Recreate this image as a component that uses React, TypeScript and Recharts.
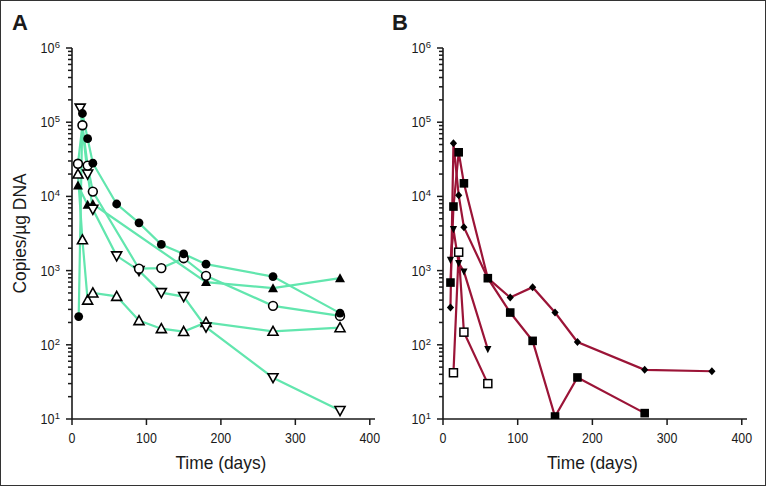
import { LineChart, Line, XAxis, YAxis } from "recharts";

type Pt = { day: number; copies: number };

// Panel A (green)
const aFilledCircle: Pt[] = [
  { day: 9, copies: 240 }, { day: 14, copies: 131000 }, { day: 21, copies: 60000 },
  { day: 28, copies: 28000 }, { day: 60, copies: 7900 }, { day: 90, copies: 4400 },
  { day: 120, copies: 2250 }, { day: 150, copies: 1680 }, { day: 180, copies: 1220 },
  { day: 270, copies: 830 }, { day: 360, copies: 267 },
];
const aOpenCircle: Pt[] = [
  { day: 8, copies: 27500 }, { day: 14, copies: 91000 }, { day: 21, copies: 26000 },
  { day: 28, copies: 11600 }, { day: 90, copies: 1060 }, { day: 120, copies: 1080 },
  { day: 150, copies: 1470 }, { day: 180, copies: 850 }, { day: 270, copies: 335 },
  { day: 360, copies: 245 },
];
const aFilledTriangle: Pt[] = [
  { day: 8, copies: 14000 }, { day: 21, copies: 7700 }, { day: 28, copies: 7900 },
  { day: 180, copies: 700 }, { day: 270, copies: 580 }, { day: 360, copies: 790 },
];
const aOpenTriangle: Pt[] = [
  { day: 8, copies: 20000 }, { day: 14, copies: 2600 }, { day: 21, copies: 400 },
  { day: 28, copies: 500 }, { day: 60, copies: 450 }, { day: 90, copies: 212 },
  { day: 120, copies: 165 }, { day: 150, copies: 151 }, { day: 180, copies: 200 },
  { day: 270, copies: 152 }, { day: 360, copies: 170 },
];
const aOpenTriangleDown: Pt[] = [
  { day: 11, copies: 155000 }, { day: 21, copies: 20000 }, { day: 28, copies: 6700 },
  { day: 60, copies: 1580 }, { day: 90, copies: 1000 }, { day: 120, copies: 505 },
  { day: 150, copies: 447 }, { day: 180, copies: 173 }, { day: 270, copies: 36 },
  { day: 360, copies: 13 },
];

// Panel B (dark red)
const bDiamond: Pt[] = [
  { day: 10, copies: 318 }, { day: 14, copies: 52000 }, { day: 21, copies: 10400 },
  { day: 28, copies: 3840 }, { day: 60, copies: 790 }, { day: 90, copies: 433 },
  { day: 120, copies: 598 }, { day: 150, copies: 272 }, { day: 180, copies: 109 },
  { day: 270, copies: 46 }, { day: 360, copies: 44 },
];
const bFilledSquare: Pt[] = [
  { day: 10, copies: 690 }, { day: 14, copies: 7300 }, { day: 21, copies: 39300 },
  { day: 28, copies: 15000 }, { day: 60, copies: 790 }, { day: 90, copies: 272 },
  { day: 120, copies: 113 }, { day: 150, copies: 10.8 }, { day: 180, copies: 36.3 },
  { day: 270, copies: 12 },
];
const bTriangleDown: Pt[] = [
  { day: 10, copies: 1390 }, { day: 14, copies: 3600 }, { day: 21, copies: 1260 },
  { day: 28, copies: 970 }, { day: 60, copies: 87 },
];
const bOpenSquare: Pt[] = [
  { day: 14, copies: 42 }, { day: 21, copies: 1770 }, { day: 28, copies: 148 },
  { day: 60, copies: 30 },
];

const xTicks = [0, 100, 200, 300, 400];
const decadeExponents = [1, 2, 3, 4, 5, 6];
const minorSteps = [2, 3, 4, 5, 6, 7, 8, 9];
const yTicks: number[] = [];
decadeExponents.forEach((e) => {
  yTicks.push(Math.pow(10, e));
  if (e < 6) minorSteps.forEach((m) => yTicks.push(m * Math.pow(10, e)));
});

const X_MAX = 407;
const GREEN = "#62e6ae";
const MAROON = "#9b1437";
const FONT = "'Liberation Sans', Arial, sans-serif";
const INK = "#1a1a1a";

type Kind =
  | "circle" | "openCircle" | "triUp" | "openTriUp" | "openTriDown"
  | "diamond" | "square" | "triDown" | "openSquare";

const Marker = ({ cx, cy, kind }: { cx?: number; cy?: number; kind: Kind }) => {
  if (cx == null || cy == null) return null;
  const sw = 1.6;
  switch (kind) {
    case "circle":
      return <circle cx={cx} cy={cy} r={4.4} fill="#000" />;
    case "openCircle":
      return <circle cx={cx} cy={cy} r={4.4} fill="#fff" stroke="#000" strokeWidth={sw} />;
    case "triUp":
      return <polygon points={`${cx},${cy - 5} ${cx + 5},${cy + 4} ${cx - 5},${cy + 4}`} fill="#000" />;
    case "openTriUp":
      return (
        <polygon points={`${cx},${cy - 5} ${cx + 5},${cy + 4} ${cx - 5},${cy + 4}`}
          fill="#fff" stroke="#000" strokeWidth={sw} />
      );
    case "openTriDown":
      return (
        <polygon points={`${cx},${cy + 5} ${cx + 5},${cy - 4} ${cx - 5},${cy - 4}`}
          fill="#fff" stroke="#000" strokeWidth={sw} />
      );
    case "diamond":
      return <polygon points={`${cx},${cy - 4} ${cx + 3.6},${cy} ${cx},${cy + 4} ${cx - 3.6},${cy}`} fill="#000" />;
    case "square":
      return <rect x={cx - 4.3} y={cy - 4.3} width={8.6} height={8.6} fill="#000" />;
    case "triDown":
      return <polygon points={`${cx},${cy + 4} ${cx + 3.6},${cy - 3.2} ${cx - 3.6},${cy - 3.2}`} fill="#000" />;
    case "openSquare":
      return (
        <rect x={cx - 4} y={cy - 4} width={8} height={8} fill="#fff" stroke="#000" strokeWidth={1.5} />
      );
  }
  return null;
};

// y tick at the axis line: short mark for 2..9, longer mark + "10^n" for decades
const YTick = (props: any) => {
  const { x, y, payload } = props;
  const v = Number(payload.value);
  const exp = Math.round(Math.log10(v));
  const major = Math.abs(Math.pow(10, exp) - v) < 1e-6 * v;
  const len = major ? 6 : 4;
  return (
    <g>
      <rect x={x - len} y={y - 0.75} width={len} height={1.5} fill={INK} />
      {major && (
        <text x={x - 17.5} y={y + 5} textAnchor="end" fontFamily={FONT} fontSize={14} fill={INK}
          textLength={14} lengthAdjust="spacingAndGlyphs">
          10
        </text>
      )}
      {major && (
        <text x={x - 17.2} y={y} textAnchor="start" fontFamily={FONT} fontSize={9.5} fill={INK}>
          {exp}
        </text>
      )}
    </g>
  );
};

const XTick = (props: any) => {
  const { x, y, payload } = props;
  const s = String(payload.value);
  return (
    <g>
      <rect x={x - 0.75} y={y} width={1.5} height={6} fill={INK} />
      <text x={x} y={y + 14} dy="0.71em" textAnchor="middle" fontFamily={FONT} fontSize={14} fill={INK}
        textLength={s.length * 6.9} lengthAdjust="spacingAndGlyphs">
        {s}
      </text>
    </g>
  );
};

const XLabel = ({ viewBox }: any) => {
  const { x, y, width } = viewBox;
  const cx = x + (width * 200) / X_MAX;
  return (
    <text x={cx} y={y + 50} textAnchor="middle" fontFamily={FONT} fontSize={18.5} fill={INK}
      textLength={91} lengthAdjust="spacingAndGlyphs">
      Time (days)
    </text>
  );
};

const YLabel = ({ viewBox }: any) => {
  const { y, height } = viewBox;
  const cy = y + height / 2;
  return (
    <text x={26} y={cy} transform={`rotate(-90, 26, ${cy})`} textAnchor="middle"
      fontFamily={FONT} fontSize={18.5} fill={INK} textLength={120} lengthAdjust="spacingAndGlyphs">
      Copies/µg DNA
    </text>
  );
};

type Series = { data: Pt[]; kind: Kind };

const Panel = ({ series, color, yAxisWidth, rightMargin, withYLabel }: {
  series: Series[]; color: string; yAxisWidth: number; rightMargin: number; withYLabel: boolean;
}) => (
  <LineChart width={383} height={486} margin={{ top: 48, right: rightMargin, bottom: 0, left: 0 }}>
    <XAxis
      type="number"
      dataKey="day"
      domain={[0, X_MAX]}
      ticks={xTicks}
      interval={0}
      height={67}
      stroke={INK}
      strokeWidth={1.6}
      tickLine={false}
      tickSize={0}
      tickMargin={0}
      tick={<XTick />}
      label={<XLabel />}
      allowDataOverflow
    />
    <YAxis
      type="number"
      dataKey="copies"
      scale="log"
      domain={[10, 1000000]}
      ticks={yTicks}
      interval={0}
      width={yAxisWidth}
      stroke={INK}
      strokeWidth={1.6}
      tickLine={false}
      tickSize={0}
      tickMargin={0}
      tick={<YTick />}
      label={withYLabel ? <YLabel /> : undefined}
      allowDataOverflow
    />
    {series.map((s, i) => (
      <Line
        key={`l${i}`}
        data={s.data}
        dataKey="copies"
        type="linear"
        stroke={color}
        strokeWidth={2.2}
        dot={false}
        activeDot={false}
        isAnimationActive={false}
      />
    ))}
    {series.map((s, i) => (
      <Line
        key={`d${i}`}
        data={s.data}
        dataKey="copies"
        type="linear"
        stroke="none"
        dot={(p: any) => <Marker key={`m${i}-${p.index}`} cx={p.cx} cy={p.cy} kind={s.kind} />}
        activeDot={false}
        isAnimationActive={false}
      />
    ))}
  </LineChart>
);

const panelA: Series[] = [
  { data: aOpenTriangle, kind: "openTriUp" },
  { data: aFilledTriangle, kind: "triUp" },
  { data: aOpenTriangleDown, kind: "openTriDown" },
  { data: aOpenCircle, kind: "openCircle" },
  { data: aFilledCircle, kind: "circle" },
];
const panelB: Series[] = [
  { data: bOpenSquare, kind: "openSquare" },
  { data: bTriangleDown, kind: "triDown" },
  { data: bDiamond, kind: "diamond" },
  { data: bFilledSquare, kind: "square" },
];

const letterStyle = {
  position: "absolute" as const,
  top: 12,
  fontFamily: "'Liberation Sans', Arial, sans-serif",
  fontWeight: 700,
  fontSize: 22,
  color: INK,
  lineHeight: "22px",
};

export default function App() {
  return (
    <div style={{ position: "absolute", left: 0, top: 0, width: 766, height: 486, background: "#fff" }}>
      <div style={{ position: "absolute", left: 0, top: 0 }}>
        <Panel series={panelA} color={GREEN} yAxisWidth={72} rightMargin={8} withYLabel />
      </div>
      <div style={{ position: "absolute", left: 383, top: 0 }}>
        <Panel series={panelB} color={MAROON} yAxisWidth={60} rightMargin={19} withYLabel={false} />
      </div>
      <div style={{ ...letterStyle, left: 12 }}>A</div>
      <div style={{ ...letterStyle, left: 392 }}>B</div>
      <div
        style={{
          position: "absolute", left: 0, top: 0, width: 766, height: 486,
          boxSizing: "border-box", border: "1px solid #333", pointerEvents: "none",
        }}
      />
    </div>
  );
}
